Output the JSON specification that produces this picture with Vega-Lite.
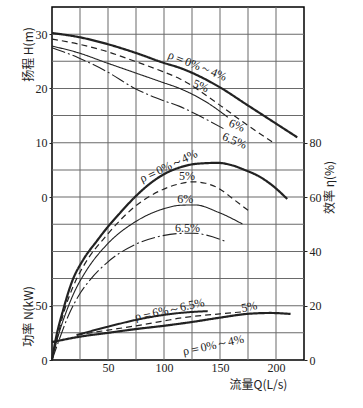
{
  "$schema": "https://vega.github.io/schema/vega-lite/v6.json",
  "width": 252,
  "height": 353,
  "autosize": "none",
  "padding": {"left": 52, "top": 7, "right": 59, "bottom": 48},
  "background": "white",
  "config": {
    "view": {"stroke": "#000", "strokeWidth": 1.5, "fill": null},
    "axis": {
      "labelFont": "Liberation Serif",
      "labelFontSize": 12,
      "labelColor": "#222",
      "titleFont": "Noto Sans CJK SC",
      "titleFontSize": 12,
      "titleFontWeight": "normal",
      "titleColor": "#222",
      "domain": false,
      "tickColor": "#222",
      "grid": false
    },
    "text": {"font": "Liberation Serif", "fontSize": 12, "color": "#222"},
    "line": {"color": "#222"}
  },
  "datasets": {
    "gx": [{"Q": 25}, {"Q": 50}, {"Q": 75}, {"Q": 100}, {"Q": 125}, {"Q": 150}, {"Q": 175}, {"Q": 200}],
    "gy": [{"N": 25}, {"N": 50}, {"N": 75}, {"N": 100}, {"N": 125}, {"N": 150}, {"N": 175}, {"N": 200}, {"N": 225}, {"N": 250}, {"N": 275}, {"N": 300}],
    "H": [
      {"Q": 0, "H": 30.2, "rho": "0%～4%"}, {"Q": 23, "H": 29.5, "rho": "0%～4%"}, {"Q": 49, "H": 28.2, "rho": "0%～4%"}, {"Q": 74, "H": 26.6, "rho": "0%～4%"}, {"Q": 100, "H": 24.7, "rho": "0%～4%"}, {"Q": 114, "H": 23.8, "rho": "0%～4%"}, {"Q": 150, "H": 20.2, "rho": "0%～4%"}, {"Q": 174, "H": 17.0, "rho": "0%～4%"}, {"Q": 201, "H": 13.4, "rho": "0%～4%"}, {"Q": 219, "H": 11.0, "rho": "0%～4%"},
      {"Q": 0, "H": 29.1, "rho": "5%"}, {"Q": 23, "H": 28.2, "rho": "5%"}, {"Q": 49, "H": 26.8, "rho": "5%"}, {"Q": 74, "H": 25.0, "rho": "5%"}, {"Q": 99, "H": 23.1, "rho": "5%"}, {"Q": 114, "H": 21.8, "rho": "5%"}, {"Q": 148, "H": 17.2, "rho": "5%"}, {"Q": 170, "H": 13.9, "rho": "5%"}, {"Q": 197, "H": 10.1, "rho": "5%"},
      {"Q": 0, "H": 27.8, "rho": "6%"}, {"Q": 23, "H": 26.6, "rho": "6%"}, {"Q": 49, "H": 24.7, "rho": "6%"}, {"Q": 74, "H": 22.9, "rho": "6%"}, {"Q": 99, "H": 21.1, "rho": "6%"}, {"Q": 114, "H": 20.0, "rho": "6%"}, {"Q": 137, "H": 17.6, "rho": "6%"}, {"Q": 157, "H": 14.7, "rho": "6%"},
      {"Q": 0, "H": 27.5, "rho": "6.5%"}, {"Q": 23, "H": 25.7, "rho": "6.5%"}, {"Q": 49, "H": 23.1, "rho": "6.5%"}, {"Q": 74, "H": 20.0, "rho": "6.5%"}, {"Q": 99, "H": 17.8, "rho": "6.5%"}, {"Q": 114, "H": 16.7, "rho": "6.5%"}, {"Q": 134, "H": 14.7, "rho": "6.5%"}, {"Q": 154, "H": 12.5, "rho": "6.5%"}
    ],
    "Hlab": [
      {"Q": 130, "H": 24.2, "t": "ρ＝0%～4%"},
      {"Q": 133, "H": 20.5, "t": "5%"},
      {"Q": 165, "H": 13.2, "t": "6%"},
      {"Q": 163, "H": 10.4, "t": "6.5%"}
    ],
    "E": [
      {"Q": 0, "eta": 0, "rho": "0%～4%"}, {"Q": 3, "eta": 7, "rho": "0%～4%"}, {"Q": 10, "eta": 18.5, "rho": "0%～4%"}, {"Q": 18, "eta": 29, "rho": "0%～4%"}, {"Q": 28, "eta": 37, "rho": "0%～4%"}, {"Q": 40, "eta": 43.8, "rho": "0%～4%"}, {"Q": 49, "eta": 48.6, "rho": "0%～4%"}, {"Q": 60, "eta": 53.8, "rho": "0%～4%"}, {"Q": 74, "eta": 60.0, "rho": "0%～4%"}, {"Q": 87, "eta": 64.8, "rho": "0%～4%"}, {"Q": 99, "eta": 68.2, "rho": "0%～4%"}, {"Q": 114, "eta": 70.9, "rho": "0%～4%"}, {"Q": 130, "eta": 72.3, "rho": "0%～4%"}, {"Q": 148, "eta": 72.6, "rho": "0%～4%"}, {"Q": 160, "eta": 71.8, "rho": "0%～4%"}, {"Q": 172, "eta": 70.0, "rho": "0%～4%"}, {"Q": 185, "eta": 67.6, "rho": "0%～4%"}, {"Q": 197, "eta": 64.2, "rho": "0%～4%"}, {"Q": 210, "eta": 59.3, "rho": "0%～4%"},
      {"Q": 0, "eta": 0, "rho": "5%"}, {"Q": 3.6, "eta": 6.3, "rho": "5%"}, {"Q": 10.7, "eta": 17.7, "rho": "5%"}, {"Q": 18.8, "eta": 27, "rho": "5%"}, {"Q": 28, "eta": 34.5, "rho": "5%"}, {"Q": 49, "eta": 46, "rho": "5%"}, {"Q": 74, "eta": 56.5, "rho": "5%"}, {"Q": 99, "eta": 62.8, "rho": "5%"}, {"Q": 115, "eta": 65, "rho": "5%"}, {"Q": 126, "eta": 65.6, "rho": "5%"}, {"Q": 137, "eta": 65.1, "rho": "5%"}, {"Q": 148, "eta": 63.4, "rho": "5%"}, {"Q": 163, "eta": 58.9, "rho": "5%"}, {"Q": 177, "eta": 54.5, "rho": "5%"},
      {"Q": 0, "eta": 0, "rho": "6%"}, {"Q": 4.5, "eta": 7.4, "rho": "6%"}, {"Q": 12.5, "eta": 17.5, "rho": "6%"}, {"Q": 20.5, "eta": 25.5, "rho": "6%"}, {"Q": 30, "eta": 32.5, "rho": "6%"}, {"Q": 49, "eta": 42.5, "rho": "6%"}, {"Q": 74, "eta": 50.8, "rho": "6%"}, {"Q": 99, "eta": 55.6, "rho": "6%"}, {"Q": 115, "eta": 57, "rho": "6%"}, {"Q": 128, "eta": 57.1, "rho": "6%"}, {"Q": 148, "eta": 54.5, "rho": "6%"}, {"Q": 170, "eta": 50.1, "rho": "6%"},
      {"Q": 0, "eta": 0, "rho": "6.5%"}, {"Q": 5.4, "eta": 6.3, "rho": "6.5%"}, {"Q": 14.3, "eta": 16, "rho": "6.5%"}, {"Q": 25, "eta": 24.5, "rho": "6.5%"}, {"Q": 34, "eta": 29.5, "rho": "6.5%"}, {"Q": 49, "eta": 35.8, "rho": "6.5%"}, {"Q": 74, "eta": 42.5, "rho": "6.5%"}, {"Q": 99, "eta": 45.8, "rho": "6.5%"}, {"Q": 114, "eta": 46.6, "rho": "6.5%"}, {"Q": 126, "eta": 46.7, "rho": "6.5%"}, {"Q": 138, "eta": 46.0, "rho": "6.5%"}, {"Q": 154, "eta": 43.8, "rho": "6.5%"}
    ],
    "Elab": [
      {"Q": 104, "eta": 71.5, "t": "ρ＝0%～4%"},
      {"Q": 120.5, "eta": 67.8, "t": "5%"},
      {"Q": 119, "eta": 59.3, "t": "6%"},
      {"Q": 121, "eta": 48.6, "t": "6.5%"}
    ],
    "Nd": [
      {"Q": 0, "N": 16.5, "rho": "0%～4%"}, {"Q": 25, "N": 21.5, "rho": "0%～4%"}, {"Q": 50, "N": 25, "rho": "0%～4%"}, {"Q": 75, "N": 28.5, "rho": "0%～4%"}, {"Q": 100, "N": 31.5, "rho": "0%～4%"}, {"Q": 125, "N": 35, "rho": "0%～4%"}, {"Q": 150, "N": 39, "rho": "0%～4%"}, {"Q": 175, "N": 42.5, "rho": "0%～4%"}, {"Q": 195, "N": 43.3, "rho": "0%～4%"}, {"Q": 213, "N": 42.4, "rho": "0%～4%"},
      {"Q": 22, "N": 23, "rho": "5%"}, {"Q": 50, "N": 27.5, "rho": "5%"}, {"Q": 75, "N": 31.5, "rho": "5%"}, {"Q": 100, "N": 36, "rho": "5%"}, {"Q": 114, "N": 38.5, "rho": "5%"}, {"Q": 125, "N": 40, "rho": "5%"}, {"Q": 150, "N": 42.5, "rho": "5%"}, {"Q": 172, "N": 44.5, "rho": "5%"},
      {"Q": 22, "N": 23, "rho": "6%～6.5%"}, {"Q": 49, "N": 30.4, "rho": "6%～6.5%"}, {"Q": 79, "N": 37.8, "rho": "6%～6.5%"}, {"Q": 114, "N": 43.3, "rho": "6%～6.5%"}, {"Q": 139, "N": 45, "rho": "6%～6.5%"}
    ],
    "Nlab": [
      {"Q": 105, "N": 46.5, "t": "ρ＝6%～6.5%"},
      {"Q": 176, "N": 49, "t": "5%"},
      {"Q": 144, "N": 13.8, "t": "ρ＝0%～4%"}
    ]
  },
  "layer": [
    {
      "data": {"name": "gx"},
      "mark": {"type": "tick", "size": 353, "thickness": 1, "color": "#6a6a6a", "opacity": 1},
      "encoding": {
        "x": {
          "field": "Q",
          "type": "quantitative",
          "scale": {"domain": [0, 225], "nice": false, "zero": false},
          "axis": {
            "values": [50, 100, 150, 200],
            "grid": false,
            "ticks": false,
            "labelPadding": 2,
            "title": "流量Q(L/s)",
            "titleX": 206,
            "titleY": 24,
            "titleAlign": "center",
            "titleBaseline": "middle"
          }
        }
      }
    },
    {
      "data": {"name": "gy"},
      "mark": {"type": "tick", "size": 252, "thickness": 1, "color": "#6a6a6a", "opacity": 1},
      "encoding": {
        "y": {"field": "N", "type": "quantitative", "scale": {"domain": [0, 325], "nice": false, "zero": false}, "axis": null}
      }
    },
    {
      "data": {"name": "Nd"},
      "encoding": {
        "x": {"field": "Q", "type": "quantitative"},
        "y": {
          "field": "N",
          "type": "quantitative",
          "scale": {"domain": [0, 325], "nice": false, "zero": false},
          "axis": {
            "orient": "left",
            "values": [0, 50],
            "grid": false,
            "tickSize": 3,
            "title": "功率 N(kW)",
            "titleAngle": -90,
            "titleX": -24,
            "titleY": 309,
            "titleAlign": "center",
            "titleBaseline": "middle"
          }
        }
      },
      "layer": [
        {
          "mark": {"type": "line", "interpolate": "monotone"},
          "encoding": {
            "strokeDash": {"field": "rho", "type": "nominal", "legend": null, "scale": {"type": "ordinal", "domain": ["0%～4%", "5%", "6%", "6.5%", "6%～6.5%"], "range": [[1, 0], [6, 4], [1, 0], [14, 3, 2, 3], [1, 0]]}},
            "strokeWidth": {"field": "rho", "type": "nominal", "legend": null, "scale": {"type": "ordinal", "domain": ["0%～4%", "5%", "6%", "6.5%", "6%～6.5%"], "range": [2.2, 1.2, 1.1, 1.1, 2]}}
          }
        },
        {
          "data": {"name": "Nlab"},
          "mark": {"type": "text", "angle": -12},
          "encoding": {"text": {"field": "t"}}
        }
      ]
    },
    {
      "encoding": {
        "x": {"field": "Q", "type": "quantitative"},
        "y": {
          "field": "H",
          "type": "quantitative",
          "scale": {"domain": [-30, 35], "nice": false, "zero": false},
          "axis": {
            "orient": "left",
            "values": [0, 10, 20, 30],
            "tickSize": 3,
            "grid": false,
            "title": "扬程 H(m)",
            "titleAngle": -90,
            "titleX": -24,
            "titleY": 47,
            "titleAlign": "center",
            "titleBaseline": "middle"
          }
        }
      },
      "layer": [
        {
          "data": {"name": "H"},
          "mark": {"type": "line", "interpolate": "monotone"},
          "encoding": {
            "strokeDash": {"field": "rho", "type": "nominal", "legend": null, "scale": {"type": "ordinal", "domain": ["0%～4%", "5%", "6%", "6.5%", "6%～6.5%"], "range": [[1, 0], [6, 4], [1, 0], [14, 3, 2, 3], [1, 0]]}},
            "strokeWidth": {"field": "rho", "type": "nominal", "legend": null, "scale": {"type": "ordinal", "domain": ["0%～4%", "5%", "6%", "6.5%", "6%～6.5%"], "range": [2.2, 1.2, 1.1, 1.1, 2]}}
          }
        },
        {
          "data": {"name": "Hlab"},
          "mark": {"type": "text", "angle": 22},
          "encoding": {"text": {"field": "t"}}
        }
      ]
    },
    {
      "encoding": {
        "x": {"field": "Q", "type": "quantitative"},
        "y": {
          "field": "eta",
          "type": "quantitative",
          "scale": {"domain": [0, 130], "nice": false, "zero": false},
          "axis": {
            "orient": "right",
            "values": [0, 20, 40, 60, 80],
            "tickSize": 3,
            "grid": false,
            "title": "效率 η(%)",
            "titleAngle": -90,
            "titleX": 25,
            "titleY": 180,
            "titleAlign": "center",
            "titleBaseline": "middle"
          }
        }
      },
      "layer": [
        {
          "data": {"name": "E"},
          "mark": {"type": "line", "interpolate": "monotone"},
          "encoding": {
            "strokeDash": {"field": "rho", "type": "nominal", "legend": null, "scale": {"type": "ordinal", "domain": ["0%～4%", "5%", "6%", "6.5%", "6%～6.5%"], "range": [[1, 0], [6, 4], [1, 0], [14, 3, 2, 3], [1, 0]]}},
            "strokeWidth": {"field": "rho", "type": "nominal", "legend": null, "scale": {"type": "ordinal", "domain": ["0%～4%", "5%", "6%", "6.5%", "6%～6.5%"], "range": [2.2, 1.2, 1.1, 1.1, 2]}}
          }
        },
        {
          "data": {"name": "Elab"},
          "transform": [{"filter": "datum.t != 'ρ＝0%～4%'"}],
          "mark": {"type": "text"},
          "encoding": {"text": {"field": "t"}}
        },
        {
          "data": {"name": "Elab"},
          "transform": [{"filter": "datum.t == 'ρ＝0%～4%'"}],
          "mark": {"type": "text", "angle": -25},
          "encoding": {"text": {"field": "t"}}
        }
      ]
    }
  ],
  "resolve": {"scale": {"y": "independent"}, "axis": {"y": "independent"}}
}
